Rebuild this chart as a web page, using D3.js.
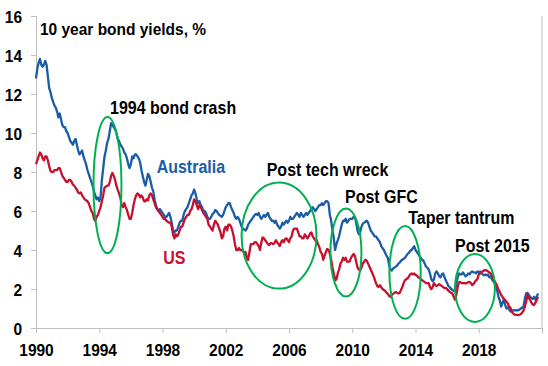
<!DOCTYPE html>
<html><head><meta charset="utf-8">
<script src="https://cdn.jsdelivr.net/npm/d3@7/dist/d3.min.js"></script>
<style>
body{margin:0;background:#fff}
svg text{font-family:Arial,"Liberation Sans",sans-serif;font-weight:bold}
</style></head><body><svg id="c" width="548" height="366"></svg>
<script>
// Monthly 10-year bond yields (%) starting January 1990
const startYear = 1990;
const auYields = [
12.8,13.3,13.6,13.8,13.5,13.4,13.5,13.7,13.5,12.9,12.3,12.1,
11.8,11.6,11.4,11.3,11.1,10.8,11.0,10.7,10.4,10.3,10.3,10.1,
10.0,9.8,9.6,9.5,9.4,9.6,9.7,9.4,9.1,8.9,9.0,9.1,
8.8,8.6,8.4,8.1,7.9,7.7,7.5,7.3,7.0,6.8,6.6,6.7,
6.5,6.7,7.6,8.2,8.8,9.1,9.5,9.7,10.1,10.5,10.4,10.3,
10.2,10.0,9.7,9.6,9.4,9.3,9.2,9.0,8.9,8.7,8.4,8.2,
8.4,8.8,8.7,8.9,8.9,8.8,8.7,8.5,8.1,7.8,7.5,7.3,
7.6,7.9,7.8,7.5,7.2,7.0,6.6,6.3,6.1,6.0,6.1,6.0,
5.9,5.8,5.7,5.7,5.8,5.9,5.7,5.4,5.0,4.9,5.0,5.0,
5.2,5.4,5.5,5.5,5.8,6.0,6.1,6.2,6.4,6.6,6.8,6.9,
7.1,6.9,6.6,6.4,6.5,6.3,6.2,6.0,6.0,5.9,5.7,5.6,
5.6,5.7,5.85,5.9,6.05,6.0,5.9,5.8,5.75,5.7,5.8,6.0,
6.2,6.3,6.4,6.4,6.2,6.05,5.9,5.7,5.6,5.7,5.6,5.4,
5.2,5.1,5.05,5.0,5.1,5.3,5.4,5.5,5.6,5.7,5.8,5.85,
5.8,5.9,5.7,5.6,5.7,5.8,5.7,5.8,5.9,5.7,5.6,5.5,
5.5,5.4,5.5,5.3,5.2,5.1,5.2,5.4,5.3,5.4,5.5,5.4,
5.5,5.7,5.6,5.6,5.7,5.8,5.9,5.8,5.7,5.9,5.8,5.7,
5.8,5.9,5.8,5.9,6.0,6.1,6.2,6.1,6.0,6.1,6.2,6.3,
6.3,6.4,6.3,6.4,6.5,6.5,6.4,5.8,5.5,5.0,4.6,4.0,
4.3,4.5,4.7,5.0,5.3,5.5,5.5,5.6,5.4,5.5,5.6,5.6,
5.6,5.7,5.7,5.4,5.0,4.8,4.9,5.2,5.35,5.4,5.45,5.5,
5.4,5.2,5.0,4.9,4.8,4.7,4.7,4.6,4.5,4.4,4.2,4.1,
4.0,3.85,3.7,3.6,3.2,3.0,2.95,3.05,3.1,3.15,3.2,3.3,
3.35,3.45,3.5,3.55,3.6,3.7,3.8,3.85,3.95,4.0,4.1,4.2,
4.0,3.9,3.8,3.7,3.6,3.5,3.45,3.3,3.15,3.1,3.0,2.8,
2.5,2.4,2.5,2.8,2.9,2.8,2.65,2.6,2.75,2.8,2.6,2.45,
2.3,2.15,2.1,2.0,1.95,1.9,1.9,2.3,2.6,2.8,2.75,2.75,
2.85,2.75,2.65,2.7,2.8,2.75,2.85,2.9,2.85,2.85,2.8,2.9,
2.85,2.9,2.8,2.75,2.7,2.75,2.7,2.75,2.6,2.65,2.5,2.4,
2.3,2.1,1.9,1.6,1.4,1.1,1.3,1.45,1.2,1.0,1.05,0.95,
0.85,0.84,0.9,0.92,0.9,0.92,0.9,0.95,1.0,1.05,1.1,1.5,
1.78,1.8,1.7,1.6,1.52,1.5,1.6,1.45,1.6,1.78
];
const usYields = [
8.4,8.6,8.8,9.0,8.9,8.7,8.6,8.8,8.8,8.6,8.3,8.05,
8.0,8.0,8.1,8.1,8.1,8.2,8.2,8.0,7.8,7.7,7.6,7.5,
7.5,7.6,7.6,7.5,7.35,7.3,7.2,7.1,6.95,6.9,6.95,6.8,
6.7,6.6,6.55,6.5,6.4,6.2,6.0,5.9,5.6,5.5,5.7,5.8,
6.0,6.2,6.5,6.8,7.2,7.25,7.3,7.3,7.5,7.8,7.95,7.8,
7.6,7.3,7.1,6.9,6.7,6.3,6.2,6.4,6.2,6.05,5.8,5.6,
5.6,5.9,6.3,6.6,6.8,6.9,6.85,6.7,6.8,6.7,6.5,6.5,
6.6,6.55,6.8,6.9,6.8,6.6,6.4,6.2,6.1,6.0,5.9,5.8,
5.7,5.6,5.6,5.5,5.45,5.4,5.4,5.2,4.8,4.6,4.8,4.7,
4.8,5.0,5.2,5.2,5.4,5.6,5.7,5.8,5.8,6.0,6.1,6.3,
6.6,6.5,6.3,6.1,6.3,6.2,6.05,5.9,5.8,5.7,5.6,5.3,
5.2,5.1,5.0,5.3,5.5,5.4,5.3,5.1,4.9,4.6,4.7,5.1,
5.2,5.0,5.3,5.3,5.2,5.0,4.7,4.3,4.0,4.0,4.1,4.0,
4.0,3.95,3.85,3.9,3.6,3.5,3.9,4.3,4.3,4.3,4.4,4.4,
4.3,4.2,4.0,4.4,4.65,4.6,4.5,4.4,4.3,4.25,4.35,4.35,
4.3,4.35,4.5,4.4,4.3,4.2,4.4,4.5,4.4,4.55,4.6,4.5,
4.4,4.6,4.7,5.0,5.1,5.1,5.1,4.9,4.7,4.7,4.6,4.6,
4.8,4.7,4.6,4.7,4.85,4.9,4.7,4.6,4.5,4.5,4.3,4.15,
3.9,3.8,3.5,3.7,3.9,4.05,4.0,3.8,3.5,3.1,2.8,2.45,
2.5,2.8,3.0,3.3,3.4,3.6,3.5,3.6,3.4,3.4,3.4,3.6,
3.7,3.8,3.7,3.4,3.1,3.0,2.95,3.1,3.3,3.4,3.5,3.45,
3.3,3.15,3.0,2.85,2.7,2.5,2.3,2.15,2.1,2.2,2.1,2.0,
1.95,1.9,1.8,1.75,1.65,1.6,1.7,1.75,1.8,1.85,1.8,1.78,
1.8,1.95,2.1,2.3,2.45,2.5,2.55,2.65,2.75,2.8,2.75,2.8,
2.72,2.7,2.6,2.6,2.5,2.45,2.4,2.35,2.3,2.3,2.3,2.1,
2.0,2.1,2.3,2.2,2.15,2.2,2.25,2.2,2.15,2.1,2.05,2.05,
2.0,1.9,1.85,1.8,1.78,1.6,1.45,1.7,2.1,2.35,2.35,2.3,
2.3,2.3,2.29,2.3,2.35,2.37,2.3,2.2,2.25,2.35,2.45,2.5,
2.75,2.8,2.85,2.9,2.95,2.97,2.95,2.9,2.85,2.8,2.7,2.55,
2.4,2.29,2.15,1.95,1.85,1.7,1.6,1.5,1.44,1.35,1.27,1.1,
1.05,0.84,0.75,0.7,0.67,0.67,0.66,0.68,0.72,0.8,0.9,1.1,
1.35,1.7,1.55,1.44,1.3,1.2,1.18,1.3,1.44,1.6
];
const yTicks = [0,2,4,6,8,10,12,14,16];
const xTickYears = [1990,1994,1998,2002,2006,2010,2014,2018,2022];
const xTickLabels = ["1990","1994","1998","2002","2006","2010","2014","2018",""];
const titleText = "10 year bond yields, %";
// annotation labels: text, year, yield (baseline anchor)
const labelTexts = ["1994 bond crash","Australia","US","Post tech wreck","Post GFC","Taper tantrum","Post 2015"];
const labelYears = [1994.68,1997.63,1998.05,2004.59,2009.54,2013.54,2016.5];
const labelYields = [10.97,7.93,3.27,7.79,6.39,5.33,3.91];
// ellipses: centre year, centre yield, half-width (years), half-height (yield)
const ellYear = [1994.52,2005.37,2009.6,2013.34,2017.76];
const ellYield = [7.33,4.74,3.87,2.85,2.05];
const ellHalfYears = [0.885,2.37,0.98,0.99,1.26];
const ellHalfYield = [3.49,2.72,2.26,2.38,1.74];

const blue = "#1a5da6", red = "#c8102e", green = "#00b050", axisGrey = "#bfbfbf";
const stretch = 1.12; // text in reference is slightly taller than wide
const svg = d3.select("#c");
const x = d3.scaleLinear().domain([1990,2022]).range([36,542]);
const y = d3.scaleLinear().domain([0,16]).range([328,16]);

// axes
const yAxis = d3.axisLeft(y).tickValues(yTicks).tickSize(5).tickPadding(9).tickFormat(d3.format("d"));
const gy = svg.append("g").attr("transform","translate(36,0)").call(yAxis);
gy.select(".domain").attr("stroke",axisGrey);
gy.selectAll(".tick line").attr("stroke",axisGrey);
gy.selectAll("text").attr("font-size","15.5px").attr("fill","#000").style("font-weight","bold")
  .attr("dy",null).attr("dominant-baseline","central")
  .attr("transform",`scale(1,${stretch})`).attr("y",0);

const xAxis = d3.axisBottom(x).tickValues(xTickYears).tickSize(5).tickPadding(11)
  .tickFormat((d,i)=>xTickLabels[i]).tickSizeOuter(0);
const gx = svg.append("g").attr("transform","translate(0,328)").call(xAxis);
gx.select(".domain").attr("stroke",axisGrey);
gx.selectAll(".tick line").attr("stroke",axisGrey);
gx.selectAll("text").attr("font-size","15.5px").attr("fill","#000").style("font-weight","bold")
  .attr("dy",null).attr("y",0).attr("transform",`translate(0,28) scale(1,${stretch})`);

// right border
svg.append("line").attr("x1",x(2022)).attr("x2",x(2022)).attr("y1",y(16)).attr("y2",y(0))
  .attr("stroke",axisGrey);

// lines
const line = d3.line().x((d,i)=>x(startYear + i/12)).y(d=>y(d));
svg.append("path").datum(auYields).attr("d",line).attr("fill","none")
  .attr("stroke",blue).attr("stroke-width",2.3).attr("stroke-linejoin","round");
svg.append("path").datum(usYields).attr("d",line).attr("fill","none")
  .attr("stroke",red).attr("stroke-width",2.3).attr("stroke-linejoin","round");

// ellipses
ellYear.forEach((c,i)=>{
  svg.append("ellipse").attr("cx",x(c)).attr("cy",y(ellYield[i]))
    .attr("rx",x(c+ellHalfYears[i])-x(c)).attr("ry",y(0)-y(ellHalfYield[i]))
    .attr("fill","none").attr("stroke",green).attr("stroke-width",2);
});

// title
svg.append("text").attr("transform",`translate(${x(1990.25)},${y(15.03)}) scale(1,${stretch})`)
  .attr("font-size","15.5px").attr("fill","#000").text(titleText);

// labels
const labelColors = ["#000",blue,red,"#000","#000","#000","#000"];
labelTexts.forEach((t,i)=>{
  svg.append("text").attr("transform",`translate(${x(labelYears[i])},${y(labelYields[i])}) scale(1,${stretch})`)
    .attr("font-size","16px").attr("fill",labelColors[i]).text(t);
});
</script></body></html>
